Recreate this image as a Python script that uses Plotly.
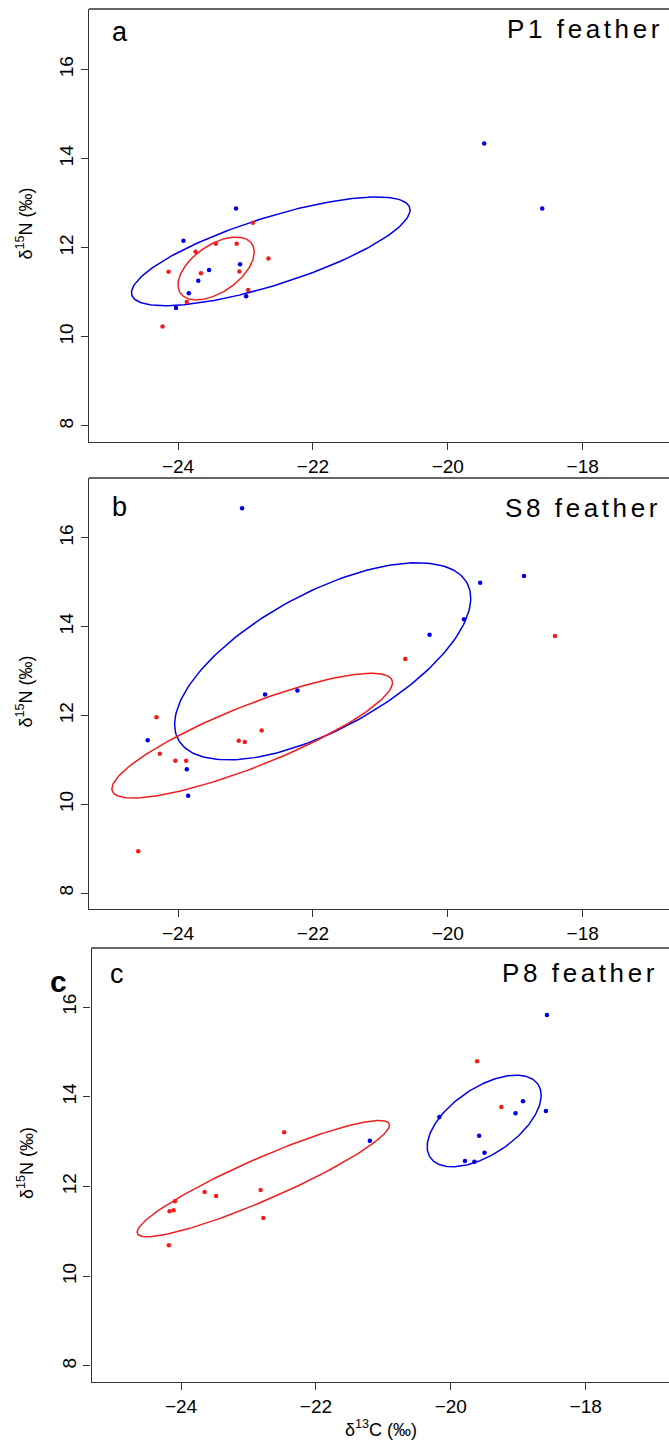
import numpy as np
import plotly.graph_objects as go

W, H = 669, 1444

# ---------------- data ----------------
# Panel a : P1 feather
a_blue_x = [-23.14, -23.92, -23.08, -23.54, -23.70, -23.84, -22.99, -24.03, -19.46, -18.60]
a_blue_y = [12.88, 12.16, 11.63, 11.50, 11.26, 10.98, 10.91, 10.65, 14.34, 12.88]
a_red_x = [-22.89, -23.44, -23.13, -23.74, -22.66, -24.14, -23.66, -23.09, -22.96, -23.87, -24.23]
a_red_y = [12.56, 12.09, 12.09, 11.91, 11.76, 11.46, 11.43, 11.47, 11.05, 10.78, 10.23]

# Panel b : S8 feather
b_blue_x = [-19.52, -19.76, -20.27, -22.23, -22.71, -24.45, -23.87, -23.85, -23.05, -18.87]
b_blue_y = [14.99, 14.17, 13.82, 12.56, 12.47, 11.44, 10.79, 10.19, 16.67, 15.14]
b_red_x = [-20.63, -24.32, -22.76, -23.10, -23.01, -24.27, -24.04, -23.88, -24.59, -18.41]
b_red_y = [13.27, 11.96, 11.66, 11.43, 11.40, 11.14, 10.98, 10.98, 8.94, 13.79]

# Panel c : P8 feather
c_blue_x = [-18.575, -18.93, -18.59, -19.04, -20.17, -19.58, -19.50, -19.79, -19.65, -21.20]
c_blue_y = [15.82, 13.90, 13.68, 13.63, 13.55, 13.13, 12.75, 12.57, 12.55, 13.02]
c_red_x = [-19.61, -19.25, -22.47, -23.65, -22.82, -23.48, -24.09, -24.17, -24.11, -22.78, -24.18]
c_red_y = [14.79, 13.77, 13.21, 11.88, 11.92, 11.79, 11.67, 11.45, 11.47, 11.30, 10.69]

# Standard ellipses: centre x, centre y, sd x, sd y, correlation
ell_a_blue = [-22.625, 11.92, 2.065, 1.22, 0.76]
ell_a_red = [-23.435, 11.535, 0.565, 0.705, 0.52]
ell_b_blue = [-21.855, 13.22, 2.195, 2.22, 0.64]
ell_b_red = [-22.90, 11.545, 2.08, 1.405, 0.85]
ell_c_blue = [-19.505, 13.46, 0.845, 1.02, 0.56]
ell_c_red = [-22.78, 12.175, 1.87, 1.295, 0.92]

panel_letters = ["a", "b", "c"]
panel_titles = ["P1 feather", "S8 feather", "P8 feather"]
x_ticks = [-24, -22, -20, -18]
y_ticks = [8, 10, 12, 14, 16]

BLUE = "#0000E6"
RED = "#F01E1E"
AX = "#333333"
FONT = "Liberation Sans, Arial, sans-serif"


def ellipse(p, n=200):
    cx, cy, sx, sy, r = p
    t = np.linspace(0, 2 * np.pi, n)
    x = cx + sx * np.cos(t)
    y = cy + sy * (r * np.cos(t) + np.sqrt(1 - r * r) * np.sin(t))
    return x, y


fig = go.Figure()

panels = [
    (a_blue_x, a_blue_y, a_red_x, a_red_y, ell_a_blue, ell_a_red),
    (b_blue_x, b_blue_y, b_red_x, b_red_y, ell_b_blue, ell_b_red),
    (c_blue_x, c_blue_y, c_red_x, c_red_y, ell_c_blue, ell_c_red),
]

# pixel geometry of each panel: (left, top, bottom), x-range, y-range
geo = [
    (89.0, 9, 442, [-25.32, -16.72], [7.64, 17.36]),
    (89.0, 478, 909, [-25.32, -16.72], [7.64, 17.35]),
    (91.5, 948, 1382, [-25.327, -16.765], [7.643, 17.315]),
]

for i, (bx, by, rx, ry, eb, er) in enumerate(panels):
    xa = "x" if i == 0 else f"x{i+1}"
    ya = "y" if i == 0 else f"y{i+1}"
    ex, ey = ellipse(eb)
    fig.add_trace(go.Scatter(x=ex, y=ey, mode="lines", line=dict(color=BLUE, width=1.5),
                             xaxis=xa, yaxis=ya, showlegend=False, hoverinfo="skip"))
    ex, ey = ellipse(er)
    fig.add_trace(go.Scatter(x=ex, y=ey, mode="lines", line=dict(color=RED, width=1.5),
                             xaxis=xa, yaxis=ya, showlegend=False, hoverinfo="skip"))
    fig.add_trace(go.Scatter(x=bx, y=by, mode="markers", marker=dict(color=BLUE, size=4.5),
                             xaxis=xa, yaxis=ya, showlegend=False))
    fig.add_trace(go.Scatter(x=rx, y=ry, mode="markers", marker=dict(color=RED, size=4.5),
                             xaxis=xa, yaxis=ya, showlegend=False))

layout = dict(
    width=W, height=H, margin=dict(l=0, r=0, t=0, b=0),
    paper_bgcolor="white", plot_bgcolor="white",
    font=dict(family=FONT, color="black"),
    showlegend=False,
)
shapes = []
for i, (left, top, bot, xr, yr) in enumerate(geo):
    sfx = "" if i == 0 else str(i + 1)
    layout["xaxis" + sfx] = dict(
        domain=[left / W, 1.0], range=xr, anchor="y" + sfx,
        tickvals=x_ticks, ticks="outside", ticklen=7, tickwidth=1.2, tickcolor=AX,
        showline=True, linecolor=AX, linewidth=1.3, mirror=False,
        showgrid=False, zeroline=False, tickfont=dict(size=19, family=FONT, color="black"),
        automargin=False, fixedrange=True,
    )
    layout["yaxis" + sfx] = dict(
        domain=[1 - bot / H, 1 - top / H], range=yr, anchor="x" + sfx,
        tickvals=y_ticks, ticks="outside", ticklen=7, tickwidth=1.2, tickcolor=AX,
        showline=True, linecolor=AX, linewidth=1.3, mirror=False,
        showgrid=False, zeroline=False, tickangle=-90,
        tickfont=dict(size=19, family=FONT, color="black"),
        automargin=False, fixedrange=True,
    )
    shapes.append(dict(type="line", xref=f"x{sfx} domain", yref=f"y{sfx} domain",
                       x0=0, x1=1, y0=1, y1=1, line=dict(color=AX, width=1.3)))
layout["shapes"] = shapes

ann = []
letter_pos = [(120, 32), (119, 507), (117, 974)]
title_pos = [(505, 29), (503, 508), (500, 973)]
for i in range(3):
    lx, ly = letter_pos[i]
    ann.append(dict(text=panel_letters[i], x=lx / W, y=1 - ly / H, xref="paper", yref="paper",
                    xanchor="center", yanchor="middle", showarrow=False,
                    font=dict(size=27, family=FONT, color="black")))
    tx, ty = title_pos[i]
    ann.append(dict(text=f'<span style="letter-spacing:3.6px">{panel_titles[i]}</span>',
                    x=tx / W, y=1 - ty / H, xref="paper", yref="paper",
                    xanchor="left", yanchor="middle", showarrow=False,
                    font=dict(size=26, family=FONT, color="black")))
    # y-axis title
    _, top, bot, _, _ = geo[i]
    ann.append(dict(text="δ<sup>15</sup>N (‰)", x=25 / W, y=1 - ((top + bot) / 2 - 2) / H,
                    xref="paper", yref="paper", xanchor="center", yanchor="middle",
                    textangle=-90, showarrow=False, font=dict(size=18, family=FONT, color="black")))

# bold stray label left of panel c
ann.append(dict(text="<b>c</b>", x=58 / W, y=1 - 982 / H, xref="paper", yref="paper",
                xanchor="center", yanchor="middle", showarrow=False,
                font=dict(size=30, family=FONT, color="black")))
# x-axis title
ann.append(dict(text="δ<sup>13</sup>C (‰)", x=381 / W, y=1 - 1428 / H, xref="paper", yref="paper",
                xanchor="center", yanchor="middle", showarrow=False,
                font=dict(size=18, family=FONT, color="black")))
layout["annotations"] = ann

fig.update_layout(**layout)
fig.write_html(
    "out.html",
    config={"displayModeBar": False},
    post_script="document.body.style.margin='0';document.body.style.overflow='hidden';"
                "document.documentElement.style.overflow='hidden';",
)
